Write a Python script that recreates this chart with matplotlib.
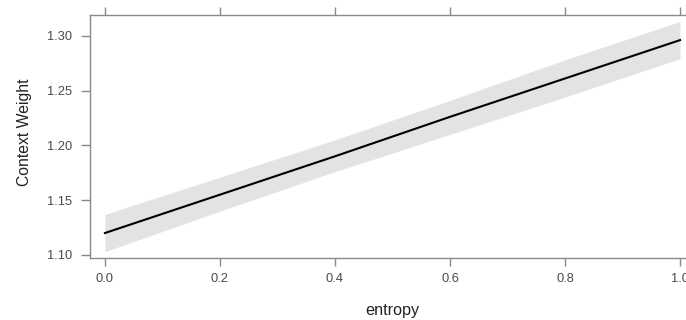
import matplotlib.pyplot as plt

# effect of entropy on context weight (fit + confidence band)
entropy = [0.0, 0.2, 0.4, 0.6, 0.8, 1.0]
fit = [1.120, 1.155, 1.190, 1.226, 1.261, 1.296]
lower = [1.103, 1.140, 1.176, 1.210, 1.244, 1.279]
upper = [1.137, 1.171, 1.205, 1.241, 1.278, 1.313]

x_ticks = [0.0, 0.2, 0.4, 0.6, 0.8, 1.0]
x_labels = ['0.0', '0.2', '0.4', '0.6', '0.8', '1.0']
y_ticks = [1.10, 1.15, 1.20, 1.25, 1.30]
y_labels = ['1.10', '1.15', '1.20', '1.25', '1.30']

plt.rcParams['font.family'] = ['Liberation Sans', 'DejaVu Sans']

W, H = 686, 320
fig = plt.figure(figsize=(W / 100, H / 100), dpi=100)
# box runs past the right edge of the picture, like the reference
ax = fig.add_axes([90 / W, (H - 257.7) / H, 605 / W, 242.7 / H])

ax.fill_between(entropy, lower, upper, color='#e3e3e3', linewidth=0)
ax.plot(entropy, fit, color='black', linewidth=1.5)

ax.set_xlim(-0.026, 1.026)
ax.set_ylim(1.0975, 1.3189)

ax.set_xticks(x_ticks)
ax.set_xticklabels(x_labels)
ax.set_yticks(y_ticks)
ax.set_yticklabels(y_labels)

grey = '#8a8a8a'
for s in ax.spines.values():
    s.set_color(grey)
    s.set_linewidth(1.0)

ax.tick_params(axis='x', which='major', direction='out', length=6, width=1,
               color=grey, labelcolor='#4a4a4a', labelsize=9.3, pad=5,
               top=True, labeltop=False)
ax.tick_params(axis='y', which='major', direction='out', length=6.5, width=1,
               color=grey, labelcolor='#4a4a4a', labelsize=9.3, pad=6.5,
               right=False)

ax.set_xlabel('entropy', fontsize=11.7, color='#222222')
ax.xaxis.set_label_coords(0.5, -0.186)
ax.set_ylabel('Context Weight', fontsize=11.3, color='#222222')
ax.yaxis.set_label_coords(-58 / 605, 0.515)

plt.savefig('out.png', dpi=100)
